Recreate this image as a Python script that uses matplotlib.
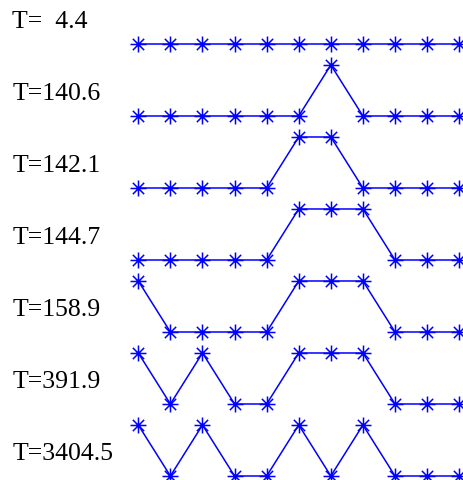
"""Spin configurations of an 11-site chain at increasing temperature T."""

import matplotlib
matplotlib.use("Agg")
import matplotlib.pyplot as plt
from matplotlib.path import Path

temperatures = [4.4, 140.6, 142.1, 144.7, 158.9, 391.9, 3404.5]
states = [
    [0, 0, 0, 0, 0, 0, 0, 0, 0, 0, 0],
    [0, 0, 0, 0, 0, 0, 1, 0, 0, 0, 0],
    [0, 0, 0, 0, 0, 1, 1, 0, 0, 0, 0],
    [0, 0, 0, 0, 0, 1, 1, 1, 0, 0, 0],
    [1, 0, 0, 0, 0, 1, 1, 1, 0, 0, 0],
    [1, 0, 1, 0, 0, 1, 1, 1, 0, 0, 0],
    [1, 0, 1, 0, 0, 1, 0, 1, 0, 0, 0],
]

ROW_GAP = 72 / 51  # vertical spacing between rows, in units of one step

# asterisk marker: a plus and an x of the same radius
d = 0.707
asterisk = Path(
    [(-1, 0), (1, 0), (0, -1), (0, 1), (-d, -d), (d, d), (-d, d), (d, -d)],
    [Path.MOVETO, Path.LINETO] * 4,
)

fig = plt.figure(figsize=(4.64, 4.81), dpi=100)
ax = fig.add_axes([0, 0, 1, 1])

for r, (t, s) in enumerate(zip(temperatures, states)):
    y = [v - r * ROW_GAP for v in s]
    ax.plot(range(len(s)), y, color="blue", lw=1.1,
            marker=asterisk, markersize=11.5, markeredgewidth=1.1)
    ax.text(-3.93, 0.46 - r * ROW_GAP, f"T={t:5.1f}", ha="left", va="center",
            fontsize=18.5, family="Liberation Serif", color="black")

ax.set_xlim(-4.31, 10.15)
ax.set_ylim(-8.549, 0.882)
ax.axis("off")

fig.savefig("out.png", dpi=100)
